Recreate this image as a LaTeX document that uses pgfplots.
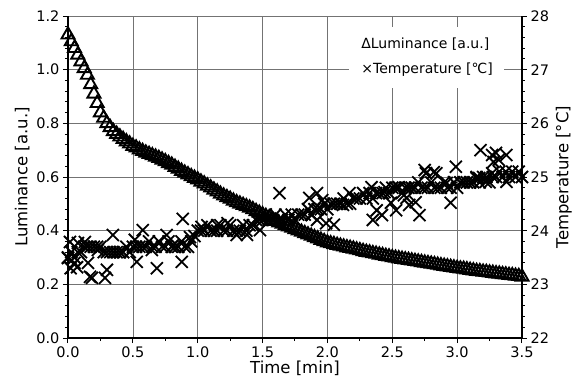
\documentclass[border=0pt]{standalone}
\usepackage{pgfplots}
\pgfplotsset{compat=1.18}
\usepackage{fontspec}
\setmainfont{DejaVu Sans}
\begin{document}
\begin{tikzpicture}
\pgfplotsset{
  base/.style={scale only axis, width=454pt, height=322pt, xmin=0, xmax=3.5, clip=false,
    tick align=outside, major tick length=5pt, minor tick length=3pt,
    every tick/.style={black, line width=1pt},
    tick label style={font=\fontsize{14.5}{16}\selectfont},
    label style={font=\fontsize{16.5}{18}\selectfont},
    axis line style={-, line width=1.3pt},
    /pgf/number format/assume math mode=true,
  }
}
\begin{axis}[base,
  axis x line*=bottom, axis y line*=left,
  ymin=0, ymax=1.2, ytick={0,0.2,0.4,0.6,0.8,1.0,1.2}, minor y tick num=4,
  xtick={0,0.5,1,1.5,2,2.5,3,3.5}, minor x tick num=1,
  xticklabel style={/pgf/number format/.cd,fixed,fixed zerofill,precision=1,assume math mode=true},
  yticklabel style={/pgf/number format/.cd,fixed,fixed zerofill,precision=1,assume math mode=true},
  grid=major, major grid style={black!55, line width=0.7pt},
  xlabel={Time [min]}, ylabel={Luminance [a.u.]},
  xlabel style={yshift=3pt},
]
\addplot[only marks, mark=triangle, mark size=7.5pt, mark options={line width=1.9pt, black}] coordinates {
(0.000,1.130)(0.025,1.105)(0.050,1.080)(0.075,1.055)(0.100,1.030)(0.125,1.005)(0.150,0.980)(0.175,0.945)
(0.200,0.910)(0.225,0.875)(0.250,0.840)(0.275,0.820)(0.300,0.800)(0.325,0.785)(0.350,0.770)(0.375,0.760)
(0.400,0.750)(0.425,0.741)(0.450,0.732)(0.475,0.724)(0.500,0.715)(0.525,0.709)(0.550,0.702)(0.575,0.696)
(0.600,0.690)(0.625,0.685)(0.650,0.680)(0.675,0.675)(0.700,0.670)(0.725,0.664)(0.750,0.658)(0.775,0.651)
(0.800,0.645)(0.825,0.637)(0.850,0.630)(0.875,0.622)(0.900,0.615)(0.925,0.609)(0.950,0.602)(0.975,0.596)
(1.000,0.590)(1.025,0.582)(1.050,0.575)(1.075,0.567)(1.100,0.560)(1.125,0.552)(1.150,0.545)(1.175,0.537)
(1.200,0.530)(1.225,0.524)(1.250,0.518)(1.275,0.511)(1.300,0.505)(1.325,0.500)(1.350,0.495)(1.375,0.490)
(1.400,0.485)(1.425,0.479)(1.450,0.472)(1.475,0.466)(1.500,0.460)(1.525,0.454)(1.550,0.448)(1.575,0.441)
(1.600,0.435)(1.625,0.430)(1.650,0.425)(1.675,0.420)(1.700,0.415)(1.725,0.410)(1.750,0.405)(1.775,0.400)
(1.800,0.395)(1.825,0.390)(1.850,0.385)(1.875,0.380)(1.900,0.375)(1.925,0.370)(1.950,0.365)(1.975,0.360)
(2.000,0.355)(2.025,0.352)(2.050,0.349)(2.075,0.346)(2.100,0.343)(2.125,0.340)(2.150,0.337)(2.175,0.335)
(2.200,0.332)(2.225,0.329)(2.250,0.326)(2.275,0.323)(2.300,0.320)(2.325,0.318)(2.350,0.315)(2.375,0.313)
(2.400,0.310)(2.425,0.308)(2.450,0.305)(2.475,0.303)(2.500,0.300)(2.525,0.298)(2.550,0.296)(2.575,0.294)
(2.600,0.292)(2.625,0.290)(2.650,0.288)(2.675,0.286)(2.700,0.284)(2.725,0.282)(2.750,0.280)(2.775,0.278)
(2.800,0.276)(2.825,0.274)(2.850,0.272)(2.875,0.270)(2.900,0.268)(2.925,0.266)(2.950,0.264)(2.975,0.262)
(3.000,0.260)(3.025,0.258)(3.050,0.257)(3.075,0.255)(3.100,0.253)(3.125,0.251)(3.150,0.249)(3.175,0.248)
(3.200,0.246)(3.225,0.245)(3.250,0.243)(3.275,0.242)(3.300,0.240)(3.325,0.239)(3.350,0.237)(3.375,0.236)
(3.400,0.234)(3.425,0.233)(3.450,0.231)(3.475,0.230)(3.500,0.228)
};
\fill[white] (axis cs:2.17,1.158) rectangle (axis cs:3.36,0.933);
\node[anchor=west, inner sep=0pt, font=\fontsize{14}{16}\selectfont] at (axis cs:2.26,1.096) {ΔLuminance [a.u.]};
\node[anchor=west, inner sep=0pt, font=\fontsize{14}{16}\selectfont] at (axis cs:2.26,0.999) {×Temperature [℃]};
\end{axis}
\begin{axis}[base,
  axis y line*=right, axis x line=none,
  ymin=22, ymax=28, ytick={22,23,24,25,26,27,28}, minor y tick num=4,
  ylabel={Temperature [°C]},
]
\addplot[only marks, mark=x, mark size=8.5pt, mark options={line width=1.8pt, black}] coordinates {
(0.000,23.5)(0.025,23.6)(0.050,23.5)(0.075,23.6)(0.100,23.6)(0.125,23.7)(0.150,23.7)(0.175,23.7)
(0.200,23.7)(0.225,23.7)(0.250,23.7)(0.275,23.6)(0.300,23.6)(0.325,23.6)(0.350,23.6)(0.375,23.6)
(0.400,23.6)(0.425,23.6)(0.450,23.7)(0.475,23.6)(0.500,23.7)(0.525,23.7)(0.550,23.7)(0.575,23.7)
(0.600,23.7)(0.625,23.8)(0.650,23.7)(0.675,23.7)(0.700,23.8)(0.725,23.7)(0.750,23.7)(0.775,23.8)
(0.800,23.7)(0.825,23.7)(0.850,23.7)(0.875,23.8)(0.900,23.7)(0.925,23.7)(0.950,23.8)(0.975,23.9)
(1.000,24.0)(1.025,24.0)(1.050,24.0)(1.075,24.1)(1.100,24.0)(1.125,24.0)(1.150,24.0)(1.175,24.1)
(1.200,24.0)(1.225,24.0)(1.250,24.1)(1.275,24.0)(1.300,24.0)(1.325,24.0)(1.350,24.1)(1.375,24.0)
(1.400,24.1)(1.425,24.1)(1.450,24.2)(1.475,24.2)(1.500,24.2)(1.525,24.3)(1.550,24.2)(1.575,24.2)
(1.600,24.3)(1.625,24.2)(1.650,24.2)(1.675,24.3)(1.700,24.2)(1.725,24.3)(1.750,24.2)(1.775,24.3)
(1.800,24.3)(1.825,24.3)(1.850,24.4)(1.875,24.3)(1.900,24.4)(1.925,24.4)(1.950,24.4)(1.975,24.5)
(2.000,24.4)(2.025,24.5)(2.050,24.5)(2.075,24.5)(2.100,24.5)(2.125,24.6)(2.150,24.5)(2.175,24.5)
(2.200,24.6)(2.225,24.6)(2.250,24.6)(2.275,24.7)(2.300,24.6)(2.325,24.7)(2.350,24.6)(2.375,24.7)
(2.400,24.7)(2.425,24.7)(2.450,24.8)(2.475,24.7)(2.500,24.8)(2.525,24.8)(2.550,24.8)(2.575,24.7)
(2.600,24.8)(2.625,24.8)(2.650,24.8)(2.675,24.8)(2.700,24.9)(2.725,24.8)(2.750,24.8)(2.775,24.8)
(2.800,24.9)(2.825,24.8)(2.850,24.8)(2.875,24.8)(2.900,24.9)(2.925,24.8)(2.950,24.8)(2.975,24.9)
(3.000,24.8)(3.025,24.9)(3.050,24.9)(3.075,24.9)(3.100,24.9)(3.125,24.9)(3.150,25.0)(3.175,24.9)
(3.200,25.0)(3.225,25.0)(3.250,24.9)(3.275,25.0)(3.300,25.0)(3.325,25.1)(3.350,25.0)(3.375,25.1)
(3.400,25.0)(3.425,25.1)(3.450,25.0)(3.475,25.1)(3.500,25.0)
(0.015,23.79)(0.077,23.77)(0.130,23.79)(0.000,23.49)(0.070,23.32)(0.020,23.30)(0.050,23.40)
(0.154,23.40)(0.185,23.12)(0.285,23.12)(0.300,23.27)(0.230,23.64)(0.346,23.92)(0.170,23.14)
(0.530,23.42)(0.577,24.01)(0.685,23.30)(0.515,23.83)(0.646,23.64)(0.760,23.92)(0.885,24.22)(0.877,23.42)
(0.810,23.73)(0.940,23.88)(1.030,24.07)(1.150,24.10)(1.230,24.14)(1.300,23.92)(1.380,23.92)(1.480,24.01)
(1.630,24.70)(1.860,24.61)(1.920,24.70)(1.960,24.57)(1.880,24.29)(1.920,24.20)(1.990,24.14)(2.050,24.11)
(2.170,24.70)(2.120,24.48)(2.340,24.81)(2.440,24.72)(2.550,24.81)(2.380,24.38)(2.420,24.29)(2.350,24.20)
(2.490,24.52)(2.530,24.38)(2.610,24.61)(2.680,24.53)(2.710,24.29)(2.760,25.07)(2.840,25.07)(2.920,24.89)
(2.990,25.19)(2.950,24.52)(3.180,25.50)(3.270,25.41)(3.320,25.32)(3.270,25.07)(3.170,24.98)(3.220,24.91)
(3.300,25.45)(3.380,25.41)(3.280,25.28)(2.750,25.13)(2.820,25.09)(2.590,24.66)(2.630,24.48)(3.380,24.91)
(3.150,24.98)
};
\end{axis}
\pgfresetboundingbox
\path (-68pt,-43pt) rectangle (506pt,338pt);
\end{tikzpicture}
\end{document}
